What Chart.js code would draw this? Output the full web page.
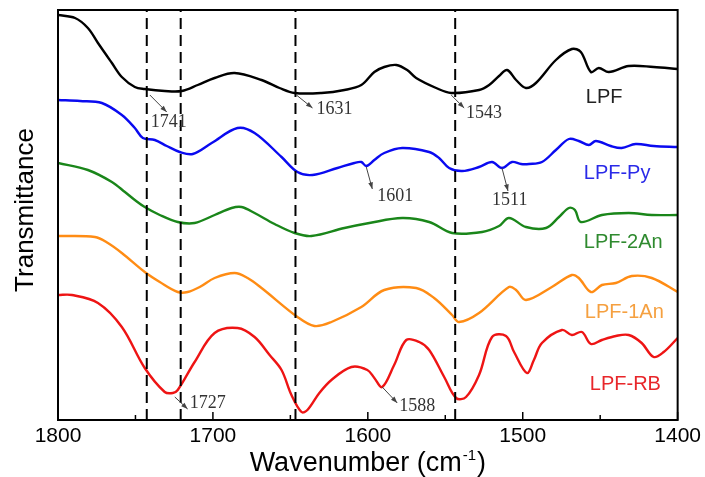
<!DOCTYPE html>
<html>
<head>
<meta charset="utf-8">
<script src="https://cdn.jsdelivr.net/npm/chart.js@4.4.0/dist/chart.umd.min.js"></script>
<style>
  html, body { margin: 0; padding: 0; background: #fff; }
  #wrap { width: 705px; height: 477px; }
</style>
</head>
<body>
<div id="wrap"><canvas id="ftir"></canvas></div>
<script>
// --- spectra (wavenumber in cm-1, offset transmittance in arbitrary units) ---
const lpfWn = [1800, 1789, 1780.7, 1774.2, 1765.2, 1758.8, 1750.4, 1744, 1731.1, 1720.1, 1709.8, 1698.9, 1686, 1668.6, 1657, 1647.3, 1629.9, 1615.1, 1604.2, 1595.8, 1589.4, 1581.6, 1574.6, 1568.8, 1555.9, 1546.2, 1528.2, 1521.7, 1515.3, 1510.1, 1504.3, 1497.9, 1491.5, 1478.6, 1468.3, 1462.5, 1456, 1450.9, 1444.4, 1431.6, 1415.5, 1400];
const lpfVal = [405, 402, 392, 377, 357, 343, 333, 331, 329, 329, 335, 342, 347, 340, 332, 327, 327, 330, 335, 348, 353, 355, 350, 342, 332, 327, 330, 335, 344, 350, 340, 332, 337, 360, 371, 368, 348, 352, 348, 354, 353, 351];

const pyWn = [1800, 1785.8, 1771.7, 1758.8, 1750.4, 1745.2, 1737.5, 1729.8, 1721.4, 1713, 1700.8, 1684.1, 1673.1, 1655.7, 1645.4, 1635.7, 1619.6, 1608.7, 1604.2, 1601, 1595.8, 1589.4, 1577.8, 1560.4, 1554, 1547.5, 1539.1, 1528.2, 1519.8, 1513.4, 1506.9, 1501.1, 1496, 1487.6, 1478.6, 1470.2, 1463.8, 1457.3, 1452.8, 1443.2, 1436.1, 1427.1, 1415.5, 1400];
const pyVal = [320, 319, 317, 305, 292, 282, 280, 274, 268, 266, 277, 292, 287, 263, 248, 245, 252, 257, 258, 254, 260, 267, 272, 268, 262, 252, 249, 253, 258, 252, 258, 256, 256, 258, 270, 281, 279, 275, 279, 274, 272, 276, 274, 273];

const an2Wn = [1800, 1780.7, 1765.2, 1756.8, 1750.4, 1744, 1734.3, 1722.7, 1711.8, 1698.9, 1687.9, 1681.5, 1673.1, 1660.2, 1647.3, 1636.4, 1615.1, 1599, 1577.8, 1560.4, 1545.6, 1526.2, 1515.3, 1508.9, 1497.9, 1485, 1476.6, 1470.2, 1466.3, 1462.5, 1448.9, 1431.6, 1416.7, 1400];
const an2Val = [257, 250, 238, 228, 220, 213, 205, 198, 197, 205, 212, 213, 207, 196, 187, 184, 192, 197, 202, 198, 187, 188, 194, 202, 193, 192, 203, 212, 210, 198, 205, 207, 205, 205];

const an1Wn = [1800, 1776.2, 1767.8, 1758.8, 1744, 1734.3, 1722.7, 1716.3, 1708.5, 1698.9, 1686, 1677.6, 1668.6, 1645.4, 1634.5, 1623.5, 1604.2, 1589.4, 1568.8, 1557.2, 1545.6, 1541.1, 1528.2, 1508.9, 1504.3, 1497.9, 1481.2, 1468.3, 1463.8, 1456, 1448.9, 1439.9, 1429.6, 1416.7, 1400];
const an1Val = [184, 183, 177, 167, 148, 138, 128, 128, 133, 142, 147, 142, 132, 103, 94, 98, 113, 130, 132, 122, 105, 98, 107, 133, 130, 120, 133, 145, 142, 128, 135, 137, 144, 142, 128];

const rbWn = [1800, 1791, 1774.2, 1758.8, 1744, 1731.1, 1725.9, 1722.7, 1711.8, 1698.9, 1684.1, 1673.1, 1663.4, 1655.7, 1649.3, 1642.8, 1639, 1631.3, 1623.5, 1610.6, 1600.3, 1595.8, 1590.7, 1583, 1575.2, 1566.8, 1560.4, 1550.7, 1543, 1536.6, 1528.2, 1519.8, 1510.8, 1505.6, 1497.3, 1492.8, 1487.6, 1474.7, 1468.3, 1461.8, 1456, 1448.9, 1439.9, 1431.6, 1423.2, 1415.5, 1409, 1400];
const rbVal = [125, 125, 117, 93, 52, 28, 27, 30, 58, 87, 92, 83, 65, 50, 25, 8, 10, 27, 40, 53, 50, 42, 33, 55, 80, 78, 70, 43, 22, 23, 45, 83, 84, 68, 47, 60, 77, 90, 85, 88, 76, 80, 84, 85, 77, 63, 68, 82];

const seriesNames = ['LPF', 'LPF-Py', 'LPF-2An', 'LPF-1An', 'LPF-RB'];
const seriesColors = ['#000000', '#0a0af0', '#1a861a', '#ff8c14', '#ee1414'];
const labelColors = ['#222222', '#2a2ae8', '#2f8a2f', '#f5a040', '#e8262a'];

// dashed marker lines (cm-1)
const guideWn = [1742.7, 1720.8, 1646.7, 1543.6];

// peak callouts: text, arrow from [wn, val] to [wn, val], text anchor [wn, val]
const peakLabels = ['1741', '1631', '1543', '1601', '1511', '1727', '1588'];
const peakArrowFrom = [[1740.7, 325], [1646.1, 325], [1546.2, 325], [1601.0, 253], [1513.4, 252], [1724.6, 23], [1590.7, 33]];
const peakArrowTo = [[1729.8, 308], [1635.7, 312], [1537.8, 312], [1597.1, 231], [1509.5, 229], [1716.3, 11], [1581.0, 17]];
const peakTextAt = [[1740.1, 298], [1633.2, 311], [1536.6, 307], [1593.9, 224], [1519.8, 220], [1715.0, 17], [1579.7, 14]];

// where the curve names sit
const nameAt = [[1459.3, 323], [1460.6, 247], [1460.6, 178], [1459.9, 108], [1456.7, 36]];

const toPoints = (xs, ys) => xs.map((x, i) => ({ x: x, y: ys[i] }));

const spectra = [
  toPoints(lpfWn, lpfVal),
  toPoints(pyWn, pyVal),
  toPoints(an2Wn, an2Val),
  toPoints(an1Wn, an1Val),
  toPoints(rbWn, rbVal)
];

const datasets = [];
guideWn.forEach(wn => {
  datasets.push({
    label: 'guide',
    data: [{ x: wn, y: 0 }, { x: wn, y: 412 }],
    borderColor: '#000',
    borderWidth: 2,
    borderDash: [11, 6],
    pointRadius: 0,
    tension: 0
  });
});
spectra.forEach((pts, i) => {
  datasets.push({
    label: seriesNames[i],
    data: pts,
    borderColor: seriesColors[i],
    borderWidth: 2.4,
    pointRadius: 0,
    tension: 0.35
  });
});

const SANS = '"Liberation Sans", Arial, sans-serif';
const SERIF = '"Liberation Serif", "Times New Roman", serif';

const decorPlugin = {
  id: 'decor',
  afterDatasetsDraw(chart) {
    const ctx = chart.ctx;
    const xs = chart.scales.x, ys = chart.scales.y;
    const a = chart.chartArea;
    ctx.save();

    // frame
    ctx.strokeStyle = '#000';
    ctx.lineWidth = 2;
    ctx.strokeRect(a.left, a.top, a.right - a.left, a.bottom - a.top);

    // inward ticks on the bottom axis
    ctx.lineWidth = 1.5;
    for (let wn = 1400; wn <= 1800; wn += 50) {
      const px = xs.getPixelForValue(wn);
      const len = wn % 100 === 0 ? 8 : 5;
      ctx.beginPath();
      ctx.moveTo(px, a.bottom);
      ctx.lineTo(px, a.bottom - len);
      ctx.stroke();
    }

    // peak callouts
    ctx.strokeStyle = '#444';
    ctx.fillStyle = '#444';
    ctx.lineWidth = 1;
    peakLabels.forEach((txt, i) => {
      const x1 = xs.getPixelForValue(peakArrowFrom[i][0]), y1 = ys.getPixelForValue(peakArrowFrom[i][1]);
      const x2 = xs.getPixelForValue(peakArrowTo[i][0]), y2 = ys.getPixelForValue(peakArrowTo[i][1]);
      ctx.beginPath();
      ctx.moveTo(x1, y1);
      ctx.lineTo(x2, y2);
      ctx.stroke();
      const ang = Math.atan2(y2 - y1, x2 - x1);
      ctx.beginPath();
      ctx.moveTo(x2, y2);
      ctx.lineTo(x2 - 7 * Math.cos(ang - 0.35), y2 - 7 * Math.sin(ang - 0.35));
      ctx.lineTo(x2 - 7 * Math.cos(ang + 0.35), y2 - 7 * Math.sin(ang + 0.35));
      ctx.closePath();
      ctx.fill();
    });
    ctx.fillStyle = '#333';
    ctx.font = '18px ' + SERIF;
    ctx.textAlign = 'left';
    ctx.textBaseline = 'middle';
    peakLabels.forEach((txt, i) => {
      ctx.fillText(txt, xs.getPixelForValue(peakTextAt[i][0]), ys.getPixelForValue(peakTextAt[i][1]));
    });

    // curve names
    ctx.font = '20px ' + SANS;
    seriesNames.forEach((name, i) => {
      ctx.fillStyle = labelColors[i];
      ctx.fillText(name, xs.getPixelForValue(nameAt[i][0]), ys.getPixelForValue(nameAt[i][1]));
    });

    // y title
    ctx.fillStyle = '#000';
    ctx.save();
    ctx.translate(33, 210);
    ctx.rotate(-Math.PI / 2);
    ctx.font = '26px ' + SANS;
    ctx.textAlign = 'center';
    ctx.textBaseline = 'alphabetic';
    ctx.fillText('Transmittance', 0, 0);
    ctx.restore();

    // x title with superscript
    const main = 'Wavenumber (cm', sup = '-1', tail = ')';
    ctx.textBaseline = 'alphabetic';
    ctx.textAlign = 'left';
    ctx.font = '27px ' + SANS;
    const wMain = ctx.measureText(main).width;
    const wTail = ctx.measureText(tail).width;
    ctx.font = '15px ' + SANS;
    const wSup = ctx.measureText(sup).width;
    const total = wMain + wSup + 2 + wTail;
    let x0 = (a.left + a.right) / 2 - total / 2;
    const base = 471;
    ctx.font = '27px ' + SANS;
    ctx.fillText(main, x0, base);
    ctx.font = '15px ' + SANS;
    ctx.fillText(sup, x0 + wMain + 1, base - 11);
    ctx.font = '27px ' + SANS;
    ctx.fillText(tail, x0 + wMain + wSup + 2, base);

    ctx.restore();
  }
};

new Chart(document.getElementById('ftir'), {
  type: 'line',
  data: { datasets: datasets },
  options: {
    responsive: true,
    maintainAspectRatio: false,
    animation: false,
    events: [],
    layout: { padding: { top: 10, right: 26, left: 0, bottom: 0 } },
    plugins: { legend: { display: false }, tooltip: { enabled: false } },
    scales: {
      x: {
        type: 'linear',
        min: 1400,
        max: 1800,
        reverse: true,
        grid: { display: false, drawTicks: false },
        border: { display: false },
        ticks: {
          stepSize: 50,
          autoSkip: false,
          maxRotation: 0,
          padding: 4,
          color: '#000',
          font: { family: SANS, size: 21 },
          callback: v => (v % 100 === 0 ? String(v) : '')
        },
        afterFit: s => { s.height = 57; }
      },
      y: {
        min: 0,
        max: 410,
        grid: { display: false, drawTicks: false },
        border: { display: false },
        ticks: { display: false },
        afterFit: s => { s.height; s.width = 58; }
      }
    }
  },
  plugins: [decorPlugin]
});
</script>
</body>
</html>
